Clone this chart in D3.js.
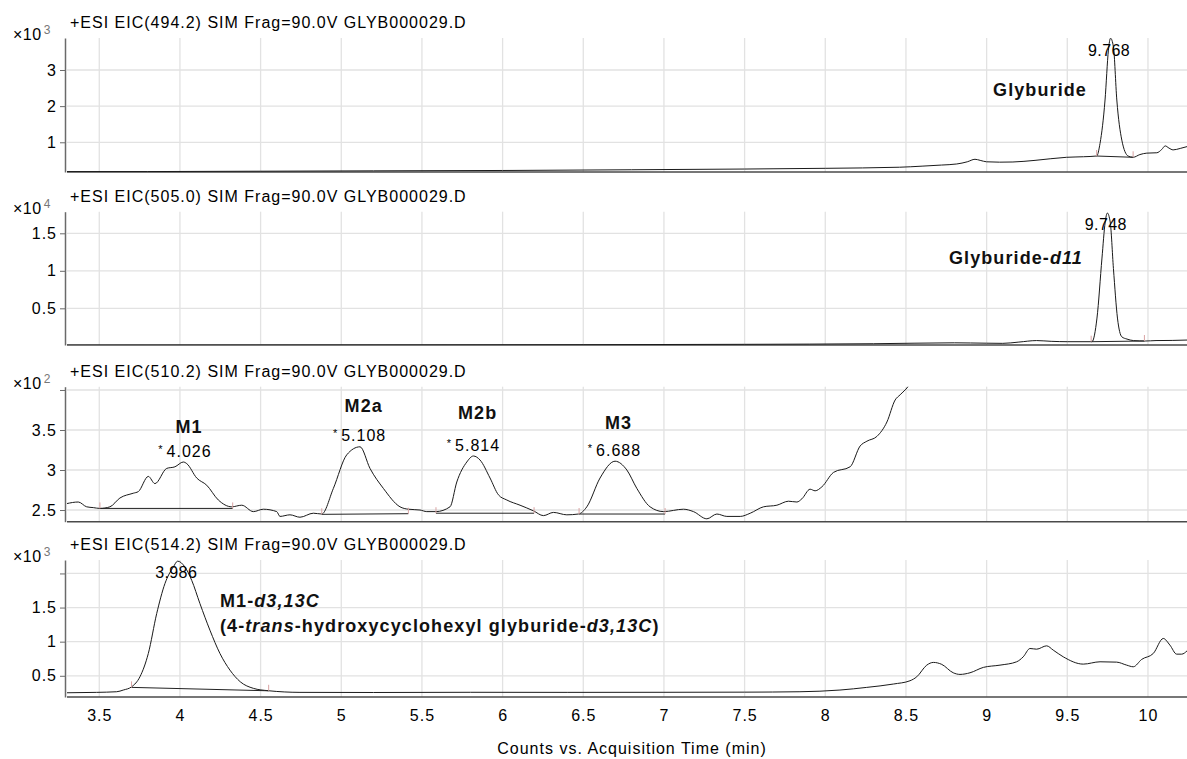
<!DOCTYPE html>
<html lang="en">
<head>
<meta charset="utf-8">
<script src="https://d3js.org/d3.v7.min.js"></script>
<style>
  *{margin:0;padding:0}
  body{background:#fff;overflow:hidden}
  svg text{font-family:"Liberation Sans",Arial,sans-serif}
</style>
</head>
<body>
<svg id="chart" width="1187" height="759"></svg>
<script>
// ---- data: [time (min), counts in panel units] ----
const titles = [
  '+ESI EIC(494.2) SIM Frag=90.0V GLYB000029.D',
  '+ESI EIC(505.0) SIM Frag=90.0V GLYB000029.D',
  '+ESI EIC(510.2) SIM Frag=90.0V GLYB000029.D',
  '+ESI EIC(514.2) SIM Frag=90.0V GLYB000029.D'
];
const exponents = ['3', '4', '2', '3'];
const xTickValues = [3.5, 4, 4.5, 5, 5.5, 6, 6.5, 7, 7.5, 8, 8.5, 9, 9.5, 10];

const yTicks494 = [1, 2, 3];
const yLabels494 = ['1', '2', '3'];
const yTicks505 = [0.5, 1, 1.5];
const yLabels505 = ['0.5', '1', '1.5'];
const yTicks510 = [2.5, 3, 3.5, 4];
const yLabels510 = ['2.5', '3', '3.5', ''];
const yTicks514 = [0.5, 1, 1.5, 2];
const yLabels514 = ['0.5', '1', '1.5', ''];

const eic494 = [[3.3,0.19],[3.8,0.19],[4.5,0.2],[5.2,0.21],[6.0,0.22],[6.8,0.24],[7.5,0.26],[8.0,0.28],
  [8.46,0.31],[8.6,0.34],[8.72,0.37],[8.815,0.4],[8.88,0.46],[8.928,0.53],[8.96,0.5],[9.0,0.46],[9.08,0.45],
  [9.163,0.455],[9.3,0.5],[9.496,0.585],[9.6,0.6],[9.682,0.62],[9.703,0.97],[9.734,2.17],[9.755,3.55],
  [9.768,3.88],[9.786,3.64],[9.807,2.17],[9.838,1.06],[9.877,0.62],[9.908,0.585],[9.95,0.66],[9.993,0.7],
  [10.055,0.71],[10.085,0.8],[10.107,0.9],[10.13,0.84],[10.156,0.79],[10.2,0.83],[10.242,0.88]];

const eic505 = [[3.3,0.008],[4.5,0.01],[5.5,0.012],[6.5,0.015],[7.5,0.02],[8.3,0.028],[8.8,0.04],[9.0,0.035],
  [9.1,0.033],[9.2,0.05],[9.31,0.07],[9.4,0.06],[9.5,0.055],[9.653,0.055],[9.684,0.37],[9.715,1.17],
  [9.735,1.65],[9.748,1.77],[9.766,1.65],[9.786,1.03],[9.811,0.37],[9.838,0.12],[9.87,0.09],[9.91,0.07],
  [9.983,0.064],[10.05,0.07],[10.15,0.072],[10.242,0.077]];

const eic510 = [[3.298,2.58],[3.37,2.6],[3.422,2.54],[3.463,2.53],[3.504,2.52],[3.566,2.54],[3.628,2.65],
  [3.711,2.71],[3.742,2.73],[3.804,2.92],[3.845,2.83],[3.918,3.02],[3.969,3.04],[4.021,3.1],[4.042,3.08],
  [4.104,2.9],[4.166,2.81],[4.238,2.625],[4.321,2.54],[4.383,2.56],[4.455,2.48],[4.517,2.51],[4.6,2.48],
  [4.62,2.42],[4.682,2.44],[4.744,2.41],[4.827,2.46],[4.879,2.45],[4.951,2.77],[5.034,3.19],[5.116,3.29],
  [5.178,3.02],[5.261,2.77],[5.364,2.54],[5.416,2.51],[5.488,2.5],[5.53,2.48],[5.587,2.48],[5.674,2.54],
  [5.716,2.85],[5.778,3.1],[5.819,3.175],[5.86,3.125],[5.922,2.9],[5.974,2.69],[6.026,2.625],[6.108,2.56],
  [6.191,2.49],[6.253,2.43],[6.315,2.47],[6.398,2.44],[6.47,2.45],[6.522,2.54],[6.604,2.9],[6.697,3.11],
  [6.77,3.0],[6.832,2.77],[6.914,2.54],[6.997,2.48],[7.121,2.51],[7.183,2.48],[7.266,2.39],[7.328,2.45],
  [7.39,2.42],[7.473,2.42],[7.535,2.46],[7.617,2.54],[7.7,2.56],[7.772,2.61],[7.824,2.6],[7.855,2.64],
  [7.906,2.76],[7.937,2.74],[7.979,2.79],[8.051,2.97],[8.154,3.04],[8.216,3.3],[8.258,3.36],[8.32,3.42],
  [8.382,3.6],[8.433,3.875],[8.464,3.94],[8.512,4.04],[8.56,4.2]];

const eic514 = [[3.298,0.251],[3.484,0.257],[3.608,0.266],[3.649,0.291],[3.701,0.339],[3.752,0.485],
  [3.804,0.827],[3.856,1.412],[3.907,1.851],[3.959,2.094],[3.986,2.18],[4.031,2.094],[4.073,1.899],
  [4.124,1.558],[4.186,1.168],[4.248,0.827],[4.31,0.583],[4.374,0.412],[4.455,0.316],[4.548,0.281],
  [4.744,0.257],[5.2,0.255],[5.8,0.258],[6.4,0.257],[7.0,0.258],[7.5,0.26],[7.843,0.266],[8.091,0.291],
  [8.257,0.33],[8.422,0.379],[8.525,0.427],[8.567,0.485],[8.629,0.656],[8.67,0.696],[8.722,0.667],
  [8.793,0.544],[8.835,0.52],[8.897,0.544],[8.98,0.623],[9.083,0.656],[9.186,0.705],[9.227,0.778],
  [9.269,0.9],[9.31,0.89],[9.372,0.939],[9.413,0.876],[9.475,0.778],[9.599,0.671],[9.703,0.705],
  [9.806,0.7],[9.868,0.656],[9.909,0.632],[9.961,0.74],[10.033,0.827],[10.095,1.047],[10.136,0.95],
  [10.178,0.817],[10.209,0.817],[10.242,0.865]];

// integration baselines (start, end)
const integ494 = [[[9.682,0.62],[9.908,0.585]]];
const integ505 = [[[9.648,0.055],[9.978,0.064]]];
const integ510 = [[[3.504,2.52],[4.327,2.52]],[[4.879,2.446],[5.416,2.454]],
                  [[5.587,2.46],[6.195,2.46]],[[6.474,2.45],[7.007,2.45]]];
const integ514 = [[[3.70,0.33],[4.55,0.28]]];

// retention time labels
const topRT = [9.768, 9.748, null, 3.986];
const peakNames510 = ['M1', 'M2a', 'M2b', 'M3'];
const peakRT510 = [4.026, 5.108, 5.814, 6.688];
const peakApex510 = [3.10, 3.29, 3.175, 3.11];
const nameLevel510 = [3.54, 3.81, 3.72, 3.59];

// ---- layout ----
const W = 1187, H = 759;
const left = 67, right = 1187;
const svg = d3.select('#chart');
const x = d3.scaleLinear().domain([3.3, 10.242]).range([left, right]);

const panels = [
  {top: 38,    bottom: 172,   domain: [0.178, 3.885], ticks: yTicks494, labels: yLabels494, trace: eic494, integ: integ494},
  {top: 211.7, bottom: 345,   domain: [0.011, 1.788], ticks: yTicks505, labels: yLabels505, trace: eic505, integ: integ505},
  {top: 386.7, bottom: 521.7, domain: [2.354, 4.041], ticks: yTicks510, labels: yLabels510, trace: eic510, integ: integ510},
  {top: 560,   bottom: 697,   domain: [0.189, 2.197], ticks: yTicks514, labels: yLabels514, trace: eic514, integ: integ514}
];
const scales = [];

panels.forEach((p, i) => {
  const y = d3.scaleLinear().domain(p.domain).range([p.bottom, p.top]);
  scales.push(y);
  const g = svg.append('g');

  svg.append('clipPath').attr('id', 'clip' + i)
    .append('rect').attr('x', left).attr('y', p.top)
    .attr('width', right - left).attr('height', p.bottom - p.top);

  // grid
  g.append('g').selectAll('line').data(xTickValues).join('line')
    .attr('x1', d => x(d)).attr('x2', d => x(d))
    .attr('y1', p.top).attr('y2', p.bottom)
    .attr('stroke', '#e2e2e2').attr('stroke-width', 1.3);
  g.append('g').selectAll('line').data(p.ticks).join('line')
    .attr('x1', left).attr('x2', right)
    .attr('y1', d => y(d)).attr('y2', d => y(d))
    .attr('stroke', '#e2e2e2').attr('stroke-width', 1.3);

  // y axis
  const ya = g.append('g').attr('transform', 'translate(65,0)')
    .call(d3.axisLeft(y).tickValues(p.ticks).tickFormat((d, j) => p.labels[j])
      .tickSize(5).tickSizeOuter(0).tickPadding(3));
  ya.attr('font-size', 16).attr('font-family', null);
  ya.select('.domain').attr('stroke', '#6a6a6a').attr('stroke-width', 1.5);
  ya.selectAll('.tick line').attr('stroke', '#6a6a6a');
  ya.selectAll('text').attr('fill', '#000').attr('letter-spacing', 1);

  // bottom axis line
  g.append('line').attr('x1', left).attr('x2', right)
    .attr('y1', p.bottom).attr('y2', p.bottom)
    .attr('stroke', '#4a4a4a').attr('stroke-width', 1.5);

  // title and multiplier
  g.append('text').attr('x', 70).attr('y', p.top - 10)
    .attr('font-size', 16).attr('letter-spacing', 1).text(titles[i]);
  const m = g.append('text').attr('x', 13).attr('y', p.top + 2)
    .attr('font-size', 16).attr('letter-spacing', 0.5);
  m.append('tspan').text('\u00d710');
  m.append('tspan').attr('font-size', 12).attr('dx', 2).attr('dy', -6)
    .attr('fill', '#777').text(exponents[i]);

  // trace
  const line = d3.line().x(d => x(d[0])).y(d => y(d[1])).curve(d3.curveMonotoneX);
  g.append('path').datum(p.trace).attr('d', line)
    .attr('clip-path', `url(#clip${i})`)
    .attr('fill', 'none').attr('stroke', '#1a1a1a').attr('stroke-width', 1);

  // integration baselines + markers
  p.integ.forEach(seg => {
    g.append('path').datum(seg).attr('d', d3.line().x(d => x(d[0])).y(d => y(d[1])))
      .attr('stroke', '#222').attr('stroke-width', 1).attr('fill', 'none');
    g.selectAll(null).data(seg).join('line')
      .attr('x1', d => x(d[0])).attr('x2', d => x(d[0]))
      .attr('y1', d => y(d[1]) - 6).attr('y2', d => y(d[1]))
      .attr('stroke', '#d9a3a3').attr('stroke-width', 1);
  });

  // rt label clamped at top of panel
  if (topRT[i] != null) {
    g.append('text').attr('x', x(topRT[i]) - 1.5).attr('y', p.top + 18)
      .attr('text-anchor', 'middle').attr('font-size', 16).attr('letter-spacing', 0.4)
      .text(topRT[i].toFixed(3));
  }
});

// compound labels
function boldLabel(parts, px, py, anchor) {
  const t = svg.append('text').attr('x', px).attr('y', py)
    .attr('font-size', 18).attr('font-weight', 'bold').attr('letter-spacing', 1.1)
    .attr('fill', '#111').attr('text-anchor', anchor);
  parts.forEach(([s, it]) => t.append('tspan').attr('font-style', it ? 'italic' : 'normal').text(s));
}
boldLabel([['Glyburide', false]], x(9.622), scales[0](2.447) + 6.5, 'end');
boldLabel([['Glyburide-', false], ['d11', true]], x(9.597), scales[1](1.184) + 6.5, 'end');
boldLabel([['M1-', false], ['d3,13C', true]], x(4.248), scales[3](1.607) + 6.5, 'start');
boldLabel([['(4-', false], ['trans', true], ['-hydroxycyclohexyl glyburide-', false], ['d3,13C', true], [')', false]],
  x(4.248), scales[3](1.241) + 6.5, 'start');

// panel 3 metabolite peaks
const y3 = scales[2];
peakNames510.forEach((name, j) => {
  const cx = x(peakRT510[j]) + 5;
  const base = y3(peakApex510[j]) - 5.5;
  svg.append('text').attr('x', cx).attr('y', base)
    .attr('text-anchor', 'middle').attr('font-size', 16).attr('letter-spacing', 1)
    .text(peakRT510[j].toFixed(3));
  svg.append('text').attr('x', cx - 26.5).attr('y', base - 4)
    .attr('text-anchor', 'end').attr('font-size', 11).text('*');
  svg.append('text').attr('x', cx).attr('y', y3(nameLevel510[j]) + 6.5)
    .attr('text-anchor', 'middle').attr('font-size', 18).attr('font-weight', 'bold')
    .attr('letter-spacing', 1.1).attr('fill', '#111').text(name);
});

// x axis on last panel
const xa = svg.append('g').attr('transform', `translate(0,${panels[3].bottom})`)
  .call(d3.axisBottom(x).tickValues(xTickValues).tickSize(0).tickPadding(13).tickFormat(d3.format('')));
xa.select('.domain').remove();
xa.attr('font-size', 16).attr('font-family', null);
xa.selectAll('text').attr('fill', '#000').attr('letter-spacing', 1);

svg.append('text').attr('x', 632).attr('y', 753.5).attr('text-anchor', 'middle')
  .attr('font-size', 16).attr('letter-spacing', 1)
  .text('Counts vs. Acquisition Time (min)');
</script>
</body>
</html>
